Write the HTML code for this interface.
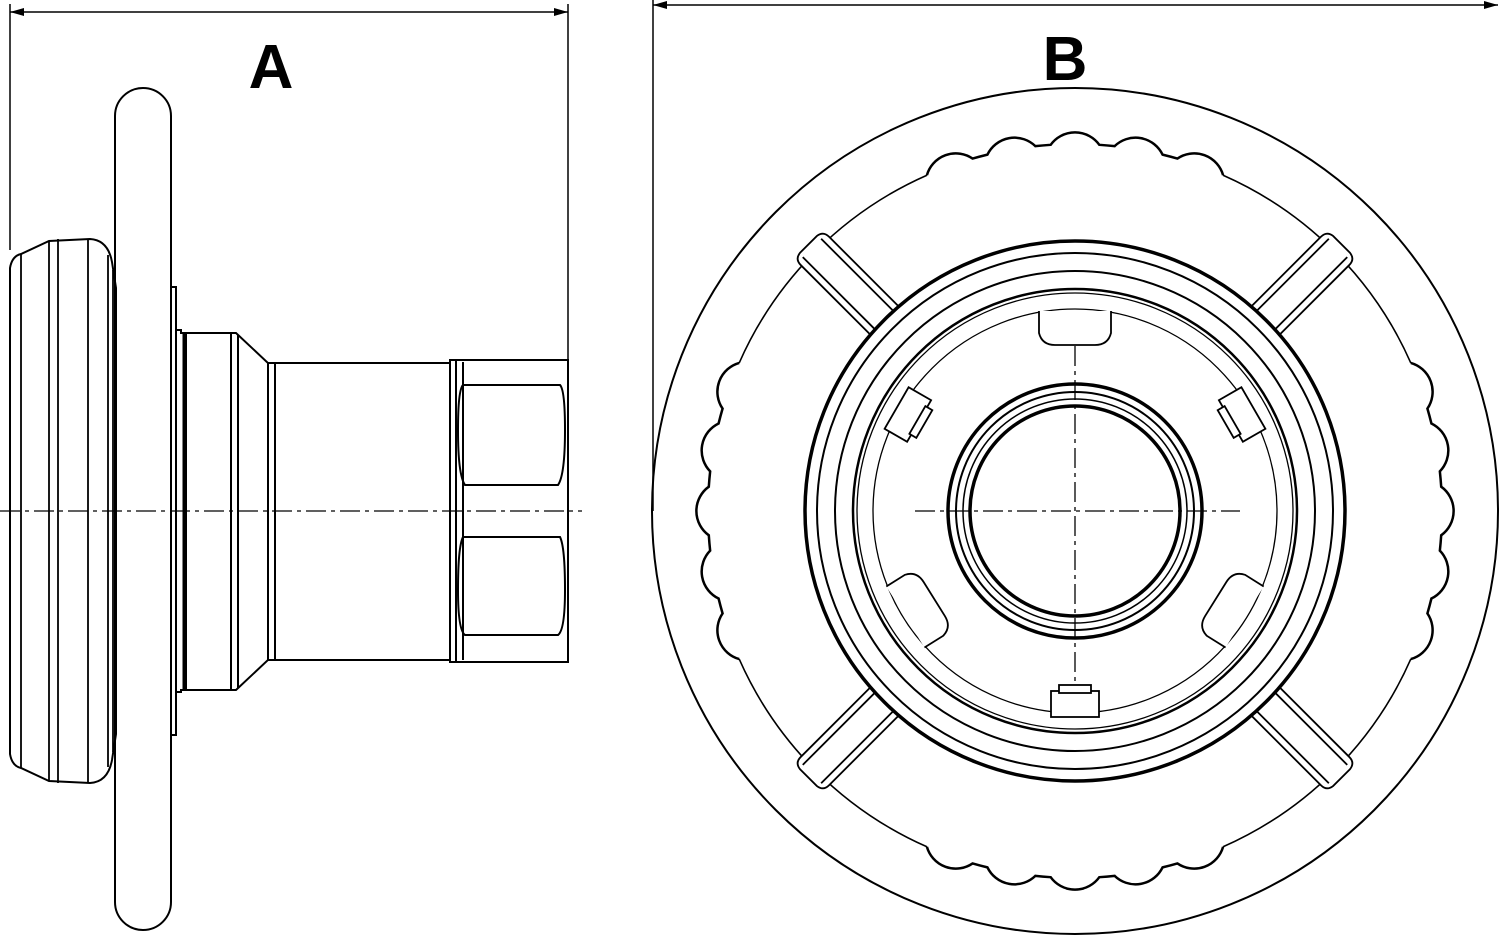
<!DOCTYPE html>
<html><head><meta charset="utf-8"><style>
html,body{margin:0;padding:0;background:#fff;width:1500px;height:935px;overflow:hidden}
svg{display:block}
text{font-family:"Liberation Sans",sans-serif;font-weight:bold}
</style></head><body>
<svg width="1500" height="935" viewBox="0 0 1500 935" xmlns="http://www.w3.org/2000/svg" fill="none" stroke="#000" stroke-width="2">
<defs>
 <g id="sp" stroke-width="1.8">
  <path d="M-20 -262 L-20 -368 Q-20 -376 -12 -377 L12 -377 Q20 -376 20 -368 L20 -262 Z" fill="#fff"/>
  <line x1="-13" y1="-262" x2="-13" y2="-372"/><line x1="13" y1="-262" x2="13" y2="-372"/>
 </g>
 <g id="tab" stroke-width="1.8">
  <path d="M-36 -200 L-36 -178 Q-33 -166 -20 -166 L20 -166 Q33 -166 36 -178 L36 -200" fill="#fff"/>
 </g>
 <g id="clip" stroke-width="1.8" fill="#fff">
  <rect x="-24" y="-206" width="48" height="26"/>
  <rect x="-16" y="-182" width="32" height="8"/>
 </g>
</defs>
<!-- Dimension A -->
<line x1="10" y1="12" x2="568" y2="12" stroke-width="1.5"/>
<path d="M10 12 l14 -4 v8 z M568 12 l-14 -4 v8 z" fill="#000" stroke="none"/>
<line x1="10" y1="4" x2="10" y2="250" stroke-width="1.5"/>
<line x1="568" y1="4" x2="568" y2="360" stroke-width="1.5"/>
<text x="271" y="88" font-size="62" text-anchor="middle" fill="#000" stroke="none">A</text>
<!-- Dimension B -->
<line x1="653" y1="5" x2="1498" y2="5" stroke-width="1.5"/>
<path d="M653 5 l14 -4 v8 z M1498 5 l-14 -4 v8 z" fill="#000" stroke="none"/>
<line x1="653" y1="0" x2="653" y2="511" stroke-width="1.5"/>
<text x="1065" y="80" font-size="62" text-anchor="middle" fill="#000" stroke="none">B</text>

<!-- LEFT VIEW -->
<path d="M10 268 Q12 256 21 254 L49 241 L90 239 Q108 240 112 262 L116 288 L116 734 L112 760 Q108 782 90 783 L49 781 L21 768 Q12 766 10 754 Z"/>
<g stroke-width="1.8">
<line x1="21" y1="254" x2="21" y2="768"/><line x1="49" y1="241" x2="49" y2="781"/>
<line x1="58" y1="239" x2="58" y2="783"/><line x1="88" y1="239" x2="88" y2="783"/>
<line x1="108" y1="255" x2="108" y2="767"/><line x1="113" y1="270" x2="113" y2="752"/>
</g>
<rect x="115" y="88" width="56" height="842" rx="28" ry="28"/>
<rect x="171" y="287" width="5" height="448"/>
<path d="M176 330 L181 330 L181 333 L186 333 L186 690 L181 690 L181 692 L176 692 Z"/>
<line x1="184" y1="333" x2="184" y2="690" stroke-width="3"/>
<path d="M186 333 L236 333 L268 363 L268 660 L236 690 L186 690"/>
<line x1="231" y1="333" x2="231" y2="690"/><line x1="238" y1="335" x2="238" y2="688"/>
<line x1="275" y1="363" x2="275" y2="660"/>
<path d="M268 363 L450 363 M268 660 L450 660"/>
<rect x="450" y="360" width="118" height="302"/>
<line x1="456" y1="360" x2="456" y2="662"/><line x1="463" y1="362" x2="463" y2="660"/>
<path d="M463 385 Q458 390 458 430 Q458 475 465 485 L558 485 Q565 475 565 430 Q565 390 560 385 Z"/>
<path d="M463 537 Q458 547 458 590 Q458 630 465 635 L558 635 Q565 630 565 590 Q565 547 560 537 Z"/>
<line x1="463" y1="485" x2="463" y2="537"/>
<line x1="0" y1="511" x2="582" y2="511" stroke-width="1.3" stroke-dasharray="20 5 4 5"/>

<!-- RIGHT VIEW -->
<circle cx="1075" cy="511" r="423"/>
<g transform="translate(1075 511)">
 <g id="seg" stroke-width="2.5">
  <path d="M -148.10 -335.79 A 30 30 0 0 1 -102.39 -352.43 A 367 367 0 0 1 -87.54 -356.40 A 30 30 0 0 1 -39.64 -364.85 A 367 367 0 0 1 -24.32 -366.19 A 30 30 0 0 1 24.32 -366.19 A 367 367 0 0 1 39.64 -364.85 A 30 30 0 0 1 87.54 -356.40 A 367 367 0 0 1 102.39 -352.43 A 30 30 0 0 1 148.10 -335.79"/>
  <path d="M 148.10 -335.79 A 367 367 0 0 1 335.79 -148.10" stroke-width="1.6"/>
 </g>
 <use href="#seg" transform="rotate(90)"/>
 <use href="#seg" transform="rotate(180)"/>
 <use href="#seg" transform="rotate(270)"/>
 <use href="#sp" transform="rotate(-45)"/><use href="#sp" transform="rotate(45)"/>
 <use href="#sp" transform="rotate(135)"/><use href="#sp" transform="rotate(-135)"/>
 <circle r="270" stroke-width="3.5" fill="#fff"/>
 <circle r="258"/>
 <circle r="240"/>
 <circle r="222" stroke-width="2.5"/>
 <circle r="218" stroke-width="1.3"/>
 <circle r="202" stroke-width="1.3"/>
 <use href="#tab"/>
 <use href="#tab" transform="rotate(-122)"/><use href="#tab" transform="rotate(122)"/>
 <use href="#clip" transform="rotate(-60)"/><use href="#clip" transform="rotate(60)"/>
 <use href="#clip" transform="rotate(180)"/>
 <circle r="127" stroke-width="3.5"/>
 <circle r="119"/>
 <circle r="112" stroke-width="1.5"/>
 <circle r="105" stroke-width="3.5"/>
 <line x1="-160" y1="0" x2="165" y2="0" stroke-width="1.3" stroke-dasharray="20 5 4 5"/>
 <line x1="0" y1="-165" x2="0" y2="170" stroke-width="1.3" stroke-dasharray="20 5 4 5"/>
</g>
</svg>
</body></html>
